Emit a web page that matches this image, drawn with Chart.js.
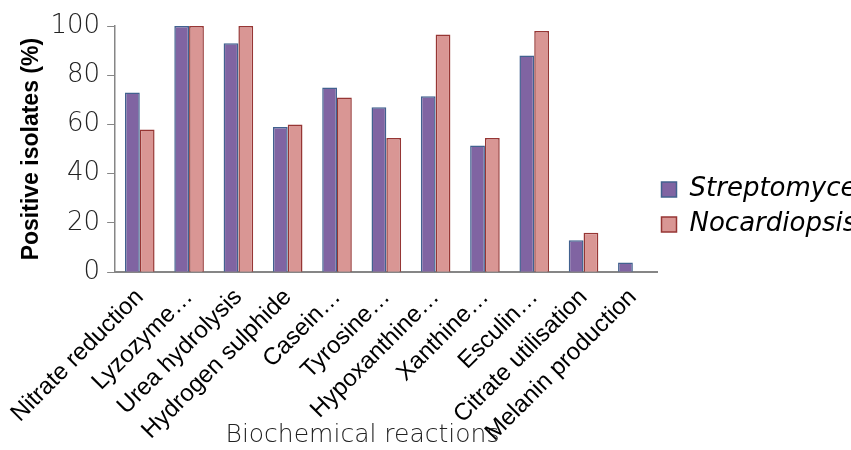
<!DOCTYPE html>
<html>
<head>
<meta charset="utf-8">
<script src="https://cdn.jsdelivr.net/npm/chart.js@4/dist/chart.umd.min.js"></script>
<style>
  html, body { margin: 0; padding: 0; overflow: hidden; background: #fff; }
  #wrap { width: 872px; height: 450px; }
</style>
</head>
<body>
<div id="wrap"><canvas id="myChart"></canvas></div>
<script>
// Biochemical reactions (some names shortened with an ellipsis)
const reactions = [
    'Nitrate reduction', 'Lyzozyme\u2026', 'Urea hydrolysis', 'Hydrogen sulphide',
    'Casein\u2026', 'Tyrosine\u2026', 'Hypoxanthine\u2026', 'Xanthine\u2026',
    'Esculin\u2026', 'Citrate utilisation', 'Melanin production'
];

// Percentage of positive isolates per genus
const streptomyces = [73, 100, 93, 59, 75, 67, 71.5, 51.5, 88, 13, 4];
const nocardiopsis = [58, 100, 100, 60, 71, 54.5, 96.5, 54.5, 98, 16, 0];

const yTicks = [0, 20, 40, 60, 80, 100];

// nudges the right-hand legend (px)
const legendDX = 5;
const legendDY = 31;
const legendShift = {
    id: 'legendShift',
    afterLayout(chart) {
        const lg = chart.legend;
        lg.left -= legendDX;
        lg.right -= legendDX;
        lg.top -= legendDY;
        lg.bottom -= legendDY;
    }
};

let ctx = document.getElementById('myChart').getContext('2d');
let myChart = new Chart(ctx, {
    type: 'bar',
    data: {
        labels: reactions,
        datasets: [
            {
                label: 'Streptomyces',
                data: streptomyces,
                backgroundColor: '#8064A2',
                borderColor: '#41618F',
                borderWidth: 1.5,
                borderSkipped: 'bottom'
            },
            {
                label: 'Nocardiopsis',
                data: nocardiopsis,
                backgroundColor: '#D99694',
                borderColor: '#963634',
                borderWidth: 1.5,
                borderSkipped: 'bottom'
            }
        ]
    },
    options: {
        responsive: true,
        maintainAspectRatio: false,
        animation: false,
        categoryPercentage: 0.6,
        barPercentage: 1.0,
        layout: {
            padding: { top: 26, left: 14, right: 0, bottom: 0 }
        },
        plugins: {
            tooltip: { enabled: false },
            legend: {
                position: 'right',
                labels: {
                    boxWidth: 15,
                    boxHeight: 15,
                    padding: 9,
                    color: '#000',
                    font: { family: 'DejaVu Sans', size: 26, style: 'italic' }
                }
            }
        },
        scales: {
            x: {
                grid: { display: false },
                border: { display: true, color: '#868686', width: 2 },
                ticks: {
                    autoSkip: false,
                    minRotation: 45,
                    maxRotation: 45,
                    padding: 3,
                    color: '#000',
                    font: { family: 'Liberation Sans', size: 24 }
                },
                title: {
                    display: true,
                    // trailing spaces pull the centred title a bit to the left
                    text: 'Biochemical reactions\u00a0\u00a0\u00a0\u00a0\u00a0\u00a0',
                    color: '#222',
                    padding: { top: -30, bottom: 0 },
                    font: { family: 'DejaVu Sans', size: 25, weight: 200 }
                }
            },
            y: {
                min: 0,
                max: 100,
                afterBuildTicks(axis) {
                    axis.ticks = yTicks.map(v => ({ value: v }));
                },
                grid: {
                    drawOnChartArea: false,
                    tickLength: 8,
                    color: '#868686'
                },
                border: { display: true, color: '#868686', width: 1.5 },
                ticks: {
                    padding: 7,
                    color: '#222',
                    font: { family: 'DejaVu Sans', size: 26, weight: 200 }
                },
                title: {
                    display: true,
                    text: 'Positive isolates (%)',
                    color: '#000',
                    padding: { top: 6.5, bottom: 0 },
                    font: { family: 'Liberation Sans', size: 23, weight: 'bold', lineHeight: 1 }
                }
            }
        }
    },
    plugins: [legendShift]
});
</script>
</body>
</html>
